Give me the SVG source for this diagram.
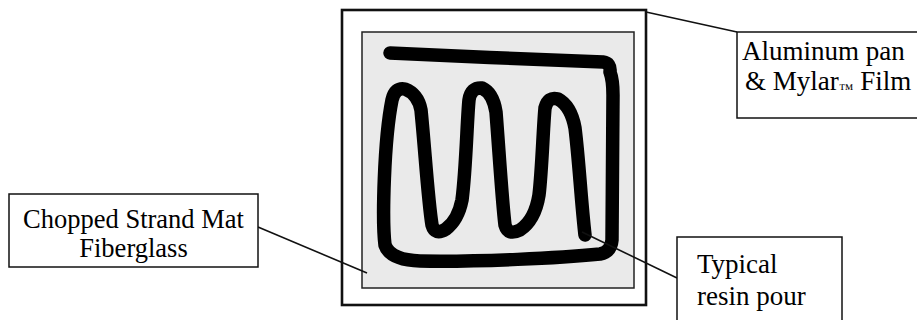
<svg xmlns="http://www.w3.org/2000/svg" width="917" height="320" viewBox="0 0 917 320">
  <style>
    .lbl { fill: #fff; stroke: #111; stroke-width: 1.5; }
    .txt { font-family: "Liberation Serif", "Times New Roman", serif; font-size: 27px; fill: #000; }
    .lead { stroke: #111; stroke-width: 1.6; fill: none; }
  </style>
  <rect width="917" height="320" fill="#fff"/>
  <g id="pan">
    <rect x="342" y="10" width="304" height="295" fill="#fff" stroke="#111" stroke-width="2.6"/>
  </g>
  <g id="mat">
    <rect x="362" y="32" width="272" height="256" fill="#eaeaea" stroke="#222" stroke-width="1.5"/>
  </g>
  <g id="resin-pour">
    <path d="M 390 53 C 450 56, 550 60, 603 62 Q 611 63, 610 72 Q 613 80, 613 95 L 612 240 Q 611 252, 600 254 C 560 258, 480 262, 420 261 Q 390 260, 385 245 C 382 220, 384 140, 392 100 Q 395 87, 405 89 Q 418 94, 421 110 C 425 150, 428 200, 432 225 Q 435 236, 446 229 Q 458 220, 462 200 C 466 170, 467 120, 469 100 Q 471 87, 482 88 Q 493 93, 496 112 C 499 150, 502 200, 505 225 Q 508 236, 520 230 Q 535 220, 539 195 C 542 170, 543 130, 545 108 Q 548 96, 558 99 Q 571 106, 575 128 C 579 160, 581 200, 585 235" fill="none" stroke="#000" stroke-width="13.5" stroke-linecap="round" stroke-linejoin="round"/>
  </g>
  <g id="connectors">
    <line class="lead" x1="646" y1="12" x2="737" y2="32"/>
    <line class="lead" x1="258" y1="227" x2="367" y2="273"/>
    <line class="lead" x1="582" y1="232" x2="677" y2="278"/>
  </g>
  <g id="label-aluminum">
    <rect class="lbl" x="737" y="32" width="200" height="86"/>
    <text class="txt" x="742" y="60">Aluminum pan</text>
    <text class="txt" x="745" y="90">&amp; Mylar<tspan font-size="15" dy="4">™</tspan><tspan dy="-4"> Film</tspan></text>
  </g>
  <g id="label-chopped">
    <rect class="lbl" x="9" y="194" width="249" height="73"/>
    <text class="txt" x="133.5" y="228" text-anchor="middle" style="font-size:26.5px">Chopped Strand Mat</text>
    <text class="txt" x="133.5" y="257" text-anchor="middle" style="font-size:26.5px">Fiberglass</text>
  </g>
  <g id="label-typical">
    <rect class="lbl" x="677" y="237" width="165" height="100"/>
    <text class="txt" x="697" y="273">Typical</text>
    <text class="txt" x="697" y="305">resin pour</text>
  </g>
</svg>
